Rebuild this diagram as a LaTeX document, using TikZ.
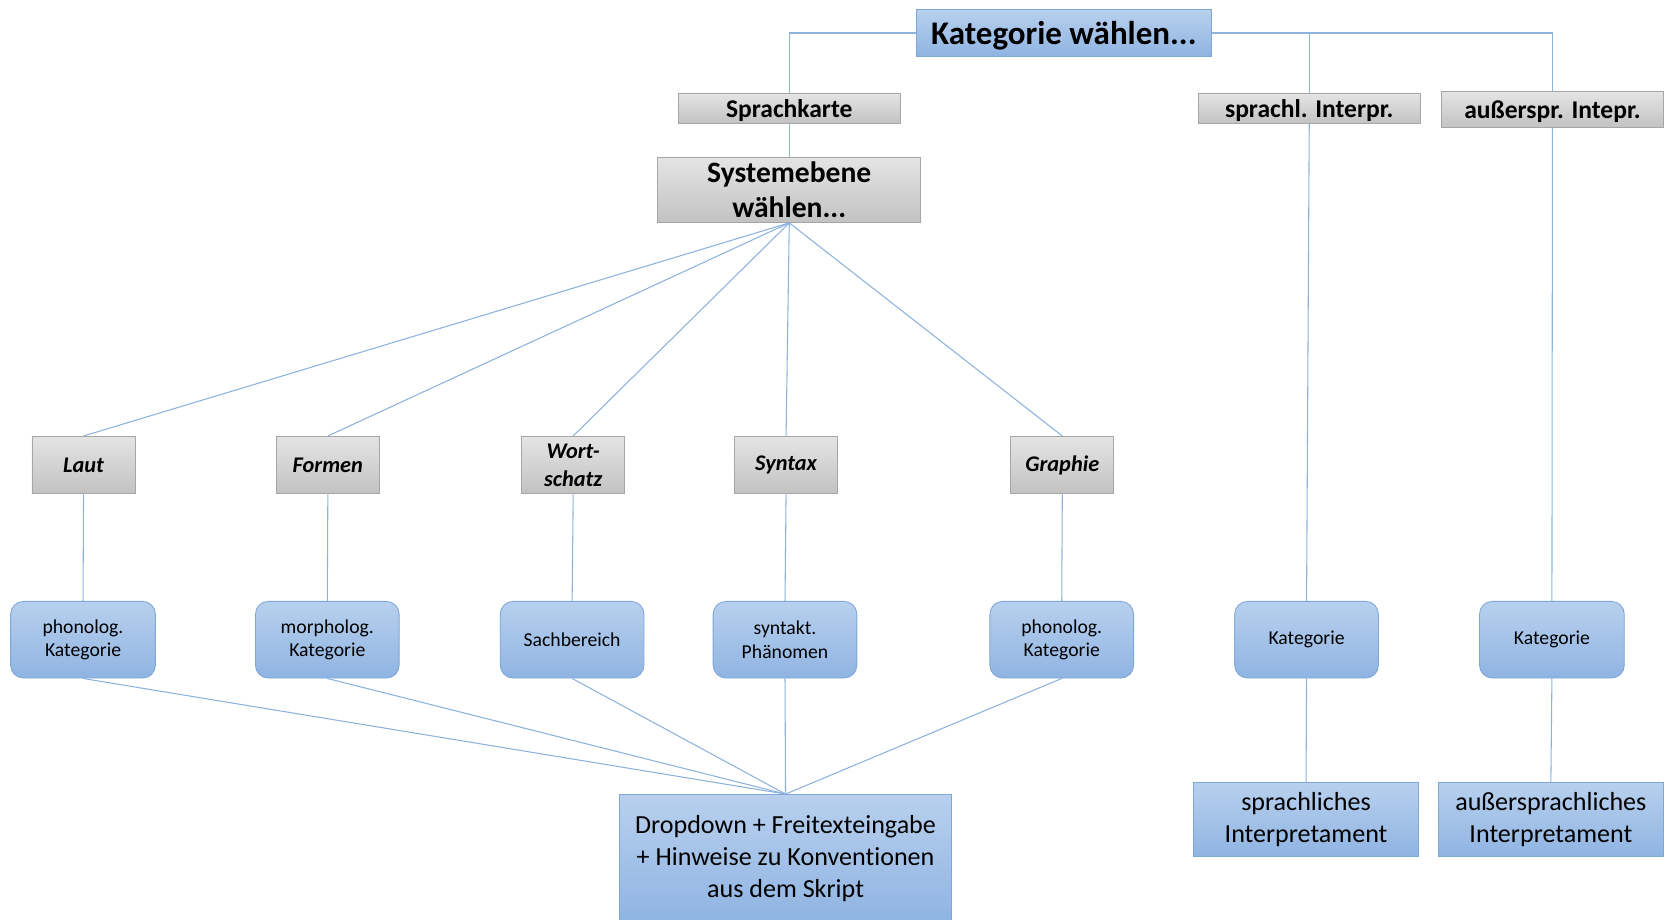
\documentclass[tikz,border=0pt]{standalone}
\usepackage{fontspec}
\setmainfont{Carlito}[Ligatures=CommonOff]
\definecolor{lnk}{HTML}{8DB3DC}
\definecolor{gbord}{HTML}{A6A6A6}
\definecolor{gtop}{HTML}{E4E4E4}
\definecolor{gbot}{HTML}{C2C2C2}
\definecolor{bbord}{HTML}{7EA6D6}
\definecolor{btop}{HTML}{B8D0EE}
\definecolor{bbot}{HTML}{8FB4E2}
\tikzset{
  graybox/.style={draw=gbord, line width=0.8pt, top color=gtop, bottom color=gbot, inner sep=0pt, align=center, font=\bfseries},
  bluebox/.style={draw=bbord, line width=0.8pt, top color=btop, bottom color=bbot, inner sep=0pt, align=center},
  roundbox/.style={bluebox, rounded corners=12pt, minimum width=135pt, minimum height=72pt, font=\fontsize{18.5}{22}\selectfont},
  smallgray/.style={graybox, minimum width=97pt, minimum height=54pt, font=\fontsize{21}{26}\selectfont\bfseries\itshape},
  headgray/.style={graybox, text depth=0pt, font=\fontsize{24}{28}\selectfont\bfseries},
  link/.style={draw=lnk, line width=1pt},
}
\begin{document}
\begin{tikzpicture}[x=1pt,y=-1pt]
\useasboundingbox (0,0) rectangle (1568,864);
% top level
\node[bluebox, text depth=0pt, minimum width=277pt, minimum height=44pt, font=\fontsize{31}{36}\selectfont\bfseries] (kat) at (999.5,31) {Kategorie wählen...};
\node[headgray, minimum width=209pt, minimum height=28pt] (spk) at (741.5,102) {Sprachkarte};
\node[headgray, minimum width=208pt, minimum height=28pt] (spi) at (1230,102) {sprachl. Interpr.};
\node[headgray, minimum width=209pt, minimum height=34pt] (aui) at (1458.5,103) {außerspr. Intepr.};
\node[graybox, minimum width=247pt, minimum height=61pt, font=\fontsize{27.8}{33}\selectfont\bfseries] (sys) at (741.5,178.5) {Systemebene\\wählen...};
% system levels
\node[smallgray] (laut) at (78.5,437) {Laut};
\node[smallgray] (formen) at (308,437) {Formen};
\node[smallgray] (wort) at (538.5,437) {Wort-\\schatz};
\node[smallgray] (syntax) at (738.5,437) {Syntax};
\node[smallgray] (graphie) at (998,437) {Graphie};
% rounded boxes
\node[roundbox, minimum width=136pt] (r1) at (78,601) {phonolog.\\Kategorie};
\node[roundbox] (r2) at (307.5,601) {morpholog.\\Kategorie};
\node[roundbox] (r3) at (537.5,601) {Sachbereich};
\node[roundbox] (r4) at (737.5,601) {syntakt.\\Phänomen};
\node[roundbox] (r5) at (997.5,601) {phonolog.\\Kategorie};
\node[roundbox] (r6) at (1227.5,601) {Kategorie};
\node[roundbox, minimum width=136pt] (r7) at (1458,601) {Kategorie};
% bottom boxes
\node[bluebox, minimum width=312pt, minimum height=120pt, font=\fontsize{24.5}{30}\selectfont, anchor=north] (drop) at (738,746) {Dropdown + Freitexteingabe\\+ Hinweise zu Konventionen\\aus dem Skript};
\node[bluebox, minimum width=212pt, minimum height=70pt, font=\fontsize{24.5}{30}\selectfont] (spr) at (1227,770) {sprachliches\\Interpretament};
\node[bluebox, minimum width=212pt, minimum height=70pt, font=\fontsize{24.5}{30}\selectfont] (aus) at (1457,770) {außersprachliches\\Interpretament};
% connectors
\draw[link] (kat.west) -| (spk.north);
\draw[link] (kat.east) -| (spi.north);
\draw[link] (kat.east) -| (aui.north);
\draw[link] (spk.south) -- (sys.north);
\foreach \n in {laut,formen,wort,syntax,graphie}{\draw[link] (sys.south) -- (\n.north);}
\draw[link] (laut.south) -- (r1.north);
\draw[link] (formen.south) -- (r2.north);
\draw[link] (wort.south) -- (r3.north);
\draw[link] (syntax.south) -- (r4.north);
\draw[link] (graphie.south) -- (r5.north);
\foreach \n in {r1,r2,r3,r4,r5}{\draw[link] (\n.south) -- (drop.north);}
\draw[link] (spi.south) -- (r6.north);
\draw[link] (aui.south) -- (r7.north);
\draw[link] (r6.south) -- (spr.north);
\draw[link] (r7.south) -- (aus.north);
\end{tikzpicture}
\end{document}
